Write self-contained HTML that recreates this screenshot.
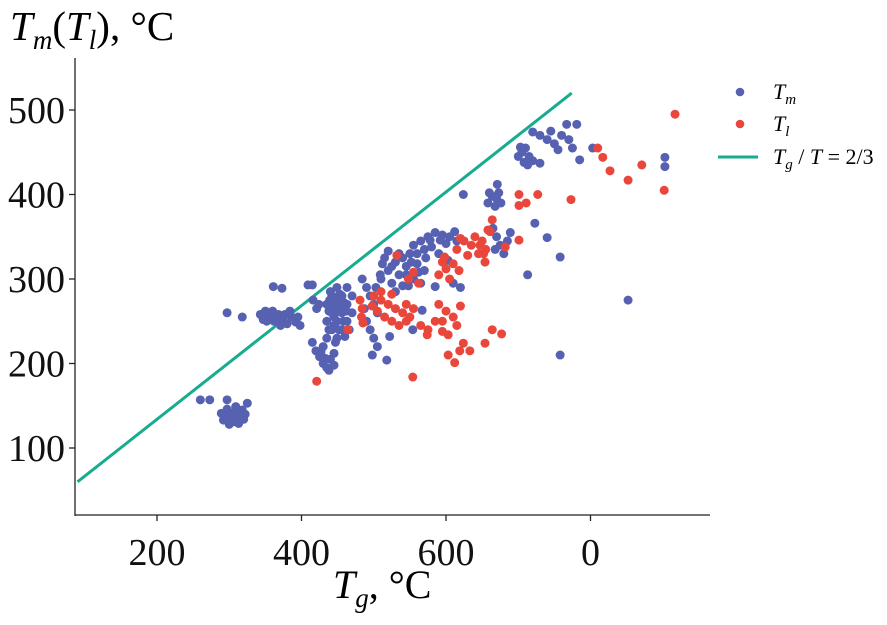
<!DOCTYPE html>
<html><head><meta charset="utf-8">
<style>
html,body{margin:0;padding:0;background:#fff;}
svg{display:block;font-family:"Liberation Serif",serif;}
</style></head>
<body>
<svg id="chart" width="887" height="625" viewBox="0 0 887 625" xmlns="http://www.w3.org/2000/svg">
<text x="10" y="40" font-size="41" font-style="italic">T<tspan font-size="27" dy="9">m</tspan><tspan dy="-9" font-style="normal">(</tspan>T<tspan font-size="27" dy="9">l</tspan><tspan dy="-9" font-style="normal">), °C</tspan></text>
<text x="333" y="598" font-size="40" font-style="italic">T<tspan font-size="27" dy="9">g</tspan><tspan dy="-9" font-style="normal">, °C</tspan></text>
<g id="axes"></g>
<g id="marks"></g>
<g>
<circle cx="740" cy="92" r="4.3" fill="#5661b1"/>
<text x="773" y="99" font-size="22" font-style="italic">T<tspan font-size="15" dy="5">m</tspan></text>
<circle cx="740" cy="124" r="4.3" fill="#e9473b"/>
<text x="773" y="131" font-size="22" font-style="italic">T<tspan font-size="15" dy="5">l</tspan></text>
<line x1="718" y1="157" x2="758" y2="157" stroke="#17ab90" stroke-width="3"/>
<text x="773" y="164" font-size="22"><tspan font-style="italic">T</tspan><tspan font-size="15" dy="5" font-style="italic">g</tspan><tspan dy="-5"> /</tspan><tspan font-style="italic"> T</tspan> = 2/3</text>
</g>
</svg>
<script>
const xTicks = [200, 400, 600, 800];
const xTickLabels = ["200", "400", "600", "0"];
const yTicks = [100, 200, 300, 400, 500];
const yTickLabels = ["100", "200", "300", "400", "500"];
const lineTg = [90, 774];
const lineT = [60, 520];
const tmPoints = [
[260,157],[273,157],[297,157],[325,153],[289,141],[295,137],[300,133],[305,139],[310,143],[315,137],[320,134],[300,128],[307,131],[313,129],[297,146],[309,149],[318,145],[292,133],[303,141],[322,140],
[297,260],[318,255],[343,258],[350,262],[356,255],[362,250],[368,258],[374,252],[380,247],[386,255],[392,249],[398,245],[360,262],[371,245],[352,250],[384,262],[395,255],[347,252],[365,254],[377,258],
[361,291],[373,289],[409,293],[415,293],
[435,230],[435,250],[435,270],[442,240],[442,260],[442,280],[449,230],[449,250],[449,270],[449,290],[456,240],[456,260],[456,280],[463,250],[463,270],[463,290],[470,260],[470,280],[438,262],[445,245],[452,262],[459,272],[466,240],[440,285],[453,282],[447,225],[460,232],
[438,240],[445,255],[452,240],[458,250],[444,268],[451,276],[439,275],[462,262],[455,268],[447,262],
[415,225],[420,215],[425,208],[430,200],[435,195],[440,205],[445,212],[430,220],[438,192],[445,198],[427,214],[433,206],
[416,275],[421,265],[424,270],
[484,300],[490,290],[495,280],[500,270],[505,260],[490,250],[495,240],[500,230],[505,220],[498,210],[487,265],[503,290],[509,305],[518,204],[522,232],
[510,300],[520,310],[530,320],[540,325],[550,330],[560,318],[570,310],[515,325],[525,295],[535,305],[545,315],[555,300],[565,295],[520,333],[548,292],[512,318],[572,325],[530,285],[540,292],
[525,315],[535,330],[545,305],[552,320],[562,308],
[555,340],[565,345],[575,350],[585,355],[595,352],[605,350],[612,356],[560,330],[580,338],[600,342],[590,330],[570,335],[615,345],[578,346],[592,346],
[610,295],[620,290],[585,291],[567,263],[554,240],[603,322],
[658,390],[664,398],[670,395],[676,390],[668,386],[660,402],[673,402],[671,412],[624,400],
[665,360],[670,350],[675,340],[680,330],[685,345],[668,335],[689,355],
[723,366],[740,349],[713,305],[758,326],[758,210],
[700,445],[705,450],[710,455],[715,445],[720,440],[708,438],[703,456],
[730,470],[740,465],[750,460],[760,470],[770,465],[745,475],[775,455],[755,453],
[767,483],[781,483],[720,474],[713,435],[730,437],[785,441],[803,455],[903,444],[903,433],[852,275]
];
const tlPoints = [
[421,179],[554,184],[532,328],[481,275],[484,265],[483,255],[485,248],[464,240],
[500,280],[510,275],[520,270],[530,265],[540,260],[550,255],[505,262],[515,255],[525,250],[535,245],[545,250],[510,285],[525,282],[545,270],[555,265],[498,268],
[548,300],[555,308],[562,295],
[590,305],[600,312],[610,318],[618,310],[595,320],[605,300],
[615,335],[625,345],[635,340],[645,330],[655,335],[630,328],[620,348],[650,345],[640,350],
[661,356],[598,326],
[590,270],[600,262],[610,255],[620,268],[595,250],[615,245],
[565,245],[575,240],[585,250],[595,238],
[603,234],[624,224],[619,215],[633,215],[603,210],[612,201],[654,224],[664,240],[677,235],[574,234],
[917,495],[810,455],[817,444],[827,428],[852,417],[871,435],[902,405],[773,394],[727,400],[701,400],[701,387],[711,390],[701,346],[682,338],[664,370],[658,358],[647,340],[652,330],[654,320]
];
const NS = "http://www.w3.org/2000/svg";
function xs(v){ return 157 + (v - 200) * 0.7225; }
function ys(v){ return 110 + (500 - v) * 0.845; }
const axes = document.getElementById('axes');
const marks = document.getElementById('marks');
function mk(tag, attrs, parent){
  const e = document.createElementNS(NS, tag);
  for (const k in attrs) e.setAttribute(k, attrs[k]);
  parent.appendChild(e); return e;
}
let a = mk('line', {x1:75,y1:58,x2:75,y2:516,stroke:'#222','stroke-width':1.3}, axes);


a = mk('line', {x1:75,y1:515,x2:710,y2:515,stroke:'#222','stroke-width':1.3}, axes);


xTicks.forEach((v, i) => {
  const t = mk('line', {x1:xs(v),y1:515,x2:xs(v),y2:521,stroke:'#222','stroke-width':1.3}, axes);
  
  
  const l = mk('text', {x:xs(v),y:565,'font-size':38,'text-anchor':'middle',fill:'#111'}, axes);
  l.textContent = xTickLabels[i];
  
  
});
yTicks.forEach((v, i) => {
  const t = mk('line', {x1:69,y1:ys(v),x2:75,y2:ys(v),stroke:'#222','stroke-width':1.3}, axes);
  
  
  const l = mk('text', {x:65,y:ys(v)+13,'font-size':38,'text-anchor':'end',fill:'#111'}, axes);
  l.textContent = yTickLabels[i];
  
  
});
const ln = mk('line', {x1:xs(lineTg[0]),y1:ys(lineT[0]),x2:xs(lineTg[1]),y2:ys(lineT[1]),stroke:'#17ab90','stroke-width':3}, marks);


tmPoints.forEach(p => {
  const c = mk('circle', {cx:xs(p[0]),cy:ys(p[1]),r:4.5,fill:'#5661b1'}, marks);
  
  
});
tlPoints.forEach(p => {
  const c = mk('circle', {cx:xs(p[0]),cy:ys(p[1]),r:4.5,fill:'#e9473b'}, marks);
  
  
});
</script>
</body></html>
